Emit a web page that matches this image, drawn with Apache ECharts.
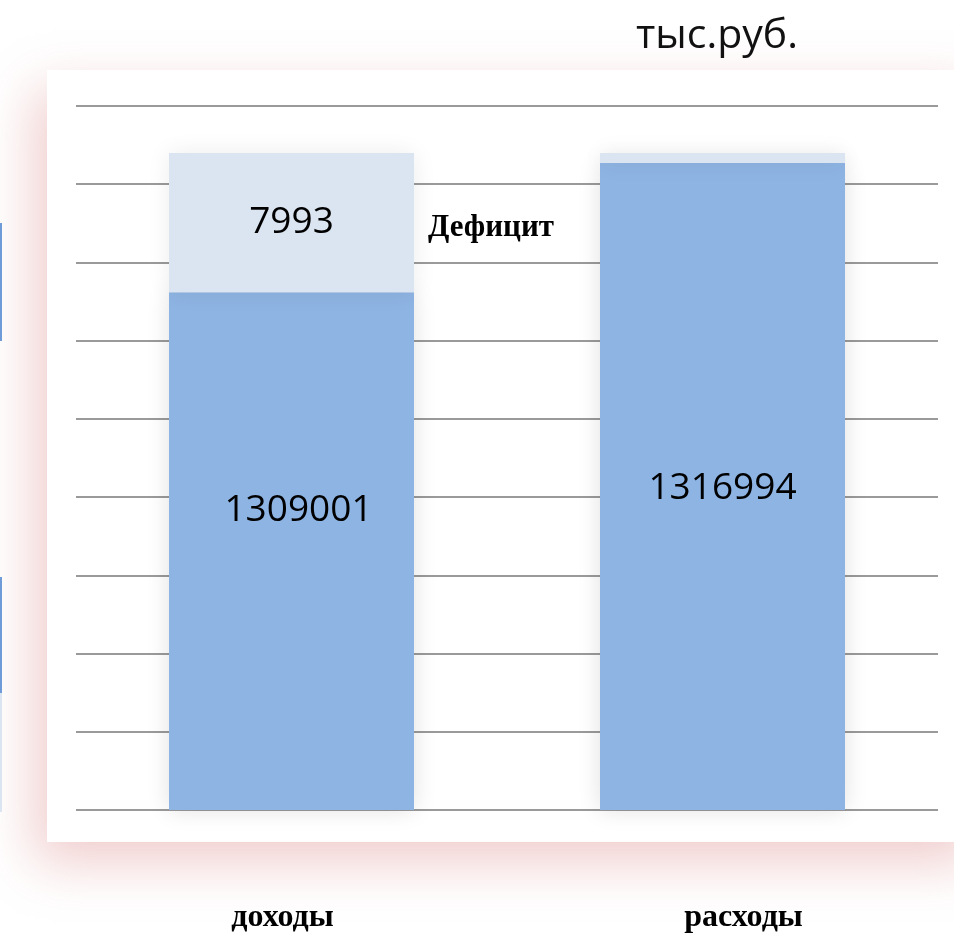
<!DOCTYPE html>
<html>
<head>
<meta charset="utf-8">
<script src="https://cdn.jsdelivr.net/npm/echarts@6/dist/echarts.min.js"></script>
<style>
html,body{margin:0;padding:0;background:#fff;}
#c{width:954px;height:934px;}
</style>
</head>
<body>
<div id="c"></div>
<script>
// Categories and bar heights (in gridline units)
var categories = ['доходы', 'расходы'];
var mainHeights = [6.62, 8.27];
var topHeights = [1.78, 0.13];
// Printed value labels
var mainLabels = ['1309001', '1316994'];
var topLabels = ['7993', ''];
var unitText = 'тыс.руб.';
var deficitText = 'Дефицит';
// Axis ticks (hidden labels, gridlines only)
var yTicks = [0, 1, 2, 3, 4, 5, 6, 7, 8, 9];

var chart = echarts.init(document.getElementById('c'));

var mainOffsets = [[7, -41], [0, 2]];
var mainData = mainHeights.map(function (v, i) {
  return {
    value: v,
    label: { offset: mainOffsets[i], formatter: mainLabels[i] }
  };
});
var topData = topHeights.map(function (v, i) {
  return {
    value: v,
    label: { show: topLabels[i] !== '', formatter: topLabels[i] }
  };
});

var numFont = {
  fontFamily: '"Open Sans", "DejaVu Sans", sans-serif',
  fontSize: 37,
  color: '#000'
};

chart.setOption({
  animation: false,
  backgroundColor: '#fff',
  graphic: [
    {
      type: 'rect', z: -10, silent: true,
      shape: { x: 47, y: 70, width: 940, height: 772 },
      style: {
        fill: '#fff',
        shadowBlur: 50,
        shadowColor: 'rgba(215,120,120,0.38)',
        shadowOffsetX: -12,
        shadowOffsetY: 20
      }
    },
    { type: 'rect', z: -5, silent: true, shape: { x: 0, y: 223, width: 2, height: 118 }, style: { fill: '#6f9bd8' } },
    { type: 'rect', z: -5, silent: true, shape: { x: 0, y: 577, width: 2, height: 116 }, style: { fill: '#6f9bd8' } },
    { type: 'rect', z: -5, silent: true, shape: { x: 0, y: 693, width: 2, height: 119 }, style: { fill: '#dbe5f1' } },
    {
      type: 'text', silent: true,
      position: [717, 36],
      style: {
        text: unitText,
        fontFamily: '"Open Sans", sans-serif',
        fontSize: 41,
        fill: '#111',
        textAlign: 'center',
        textVerticalAlign: 'middle'
      }
    },
    {
      type: 'text', silent: true,
      position: [491, 228],
      style: {
        text: deficitText,
        fontFamily: '"Liberation Serif", "Times New Roman", serif',
        fontWeight: 'bold',
        fontSize: 31,
        fill: '#000',
        textAlign: 'center',
        textVerticalAlign: 'middle'
      }
    }
  ],
  grid: { left: 76, right: 16, top: 106, bottom: 122, containLabel: false },
  xAxis: {
    type: 'category',
    data: categories,
    axisLine: { show: false },
    axisTick: { show: false },
    axisLabel: {
      margin: 92,
      formatter: function (v, i) { return i === 0 ? '{a|' + v + '}' : '{b|' + v + '}'; },
      rich: {
        a: { fontFamily: '"Liberation Serif", serif', fontWeight: 'bold', fontSize: 32, color: '#000', padding: [0, 18, 0, 0] },
        b: { fontFamily: '"Liberation Serif", serif', fontWeight: 'bold', fontSize: 32, color: '#000', padding: [0, 0, 0, 42] }
      }
    }
  },
  yAxis: {
    type: 'value',
    min: yTicks[0],
    max: yTicks[yTicks.length - 1],
    interval: 1,
    axisLabel: { show: false },
    axisLine: { show: false },
    axisTick: { show: false },
    splitLine: { show: true, lineStyle: { color: '#9a9a9a', width: 2 } }
  },
  series: [
    {
      type: 'bar', stack: 'a', barWidth: 245,
      data: mainData,
      itemStyle: {
        color: '#8EB4E3',
        shadowBlur: 22, shadowColor: 'rgba(0,0,0,0.12)', shadowOffsetX: 0, shadowOffsetY: 0
      },
      label: Object.assign({ show: true, position: 'inside' }, numFont)
    },
    {
      type: 'bar', stack: 'a', barWidth: 245,
      data: topData,
      itemStyle: {
        color: '#DBE5F1',
        shadowBlur: 22, shadowColor: 'rgba(0,0,0,0.08)', shadowOffsetX: 0, shadowOffsetY: 0
      },
      label: Object.assign({ show: true, position: 'inside' }, numFont)
    }
  ]
});
</script>
</body>
</html>
